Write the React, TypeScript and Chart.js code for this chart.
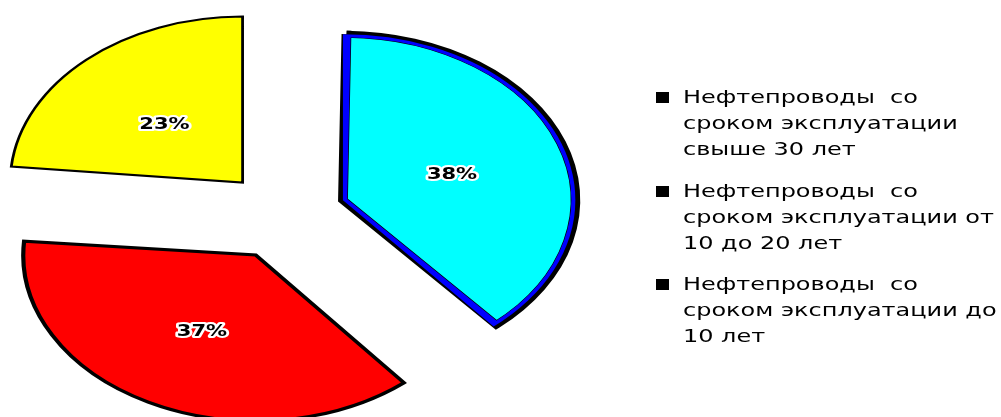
import { useEffect, useRef } from "react";
import { Chart, registerables } from "chart.js";

Chart.register(...registerables);

const categories = [
  "Нефтепроводы  со сроком эксплуатации свыше 30 лет",
  "Нефтепроводы  со сроком эксплуатации от 10 до 20 лет",
  "Нефтепроводы  со сроком эксплуатации до 10 лет",
];
const legendLines = [
  ["Нефтепроводы  со", "сроком эксплуатации", "свыше 30 лет"],
  ["Нефтепроводы  со", "сроком эксплуатации от", "10 до 20 лет"],
  ["Нефтепроводы  со", "сроком эксплуатации до", "10 лет"],
];
const values = [38, 37, 23];
const percentLabels = ["38%", "37%", "23%"];
const sliceColors = ["#00FFFF", "#FF0000", "#FFFF00"];
const sliceBorderWidths = [7, 3, 2];

const SX = 1.4; // horizontal stretch of the picture
const R = 166; // pie radius
const OFF = 178; // chart.js arc offset option (translation = OFF / 4)
const LABEL_DY = 4;

const legendBaselines = [103, 197, 290];
const LINE_H = 26;
const FONT_PX = 17;
const TEXT_SCALE = 1.41;

const ellipsePlugin = {
  id: "ellipse",
  beforeDatasetsDraw(chart: any) {
    const meta = chart.getDatasetMeta(0);
    meta.data.forEach((el: any) => {
      const c = el.circumference;
      const fix = 1 - Math.sin(Math.min(Math.PI, c || 0));
      el.outerRadius = R - (OFF / 4) * fix;
    });
    const { ctx, chartArea } = chart;
    const cx = (chartArea.left + chartArea.right) / 2;
    ctx.save();
    ctx.translate(cx, 0);
    ctx.scale(SX, 1);
    ctx.translate(-cx, 0);
  },
  afterDatasetsDraw(chart: any) {
    const { ctx } = chart;
    const meta = chart.getDatasetMeta(0);
    const first = meta.data[0];
    if (first) {
      // inner blue border of the first slice: clip to the slice, draw a blue stroke
      const mid = (first.startAngle + first.endAngle) / 2;
      const tx = Math.cos(mid) * (OFF / 4);
      const ty = Math.sin(mid) * (OFF / 4);
      ctx.save();
      ctx.beginPath();
      ctx.moveTo(first.x + tx, first.y + ty);
      ctx.arc(first.x + tx, first.y + ty, R, first.startAngle, first.endAngle);
      ctx.closePath();
      ctx.clip();
      const saved = first.options;
      first.options = {
        ...saved,
        backgroundColor: "rgba(0,0,0,0)",
        borderColor: "#0000FF",
        borderWidth: 6,
      };
      first.draw(ctx);
      first.options = saved;
      ctx.restore();
    }
    ctx.font = "bold 15px 'DejaVu Sans'";
    ctx.textAlign = "center";
    ctx.textBaseline = "middle";
    ctx.lineJoin = "round";
    meta.data.forEach((el: any, i: number) => {
      const mid = (el.startAngle + el.endAngle) / 2;
      const d = OFF / 4 + R / 2;
      const x = el.x + Math.cos(mid) * d;
      const y = el.y + Math.sin(mid) * d + LABEL_DY;
      ctx.lineWidth = 4;
      ctx.strokeStyle = "#FFFFFF";
      ctx.strokeText(percentLabels[i], x, y);
      ctx.fillStyle = "#000000";
      ctx.fillText(percentLabels[i], x, y);
    });
    ctx.restore();
  },
};

export default function App() {
  const ref = useRef<HTMLCanvasElement>(null);
  useEffect(() => {
    const chart = new Chart(ref.current as HTMLCanvasElement, {
      type: "pie",
      data: {
        labels: categories,
        datasets: [
          {
            data: values,
            backgroundColor: sliceColors,
            borderColor: "#000000",
            borderWidth: sliceBorderWidths,
            borderJoinStyle: "miter",
            offset: OFF,
          },
        ],
      },
      options: {
        animation: false,
        responsive: false,
        devicePixelRatio: 1,
        events: [],
        radius: R,
        rotation: 0,
        layout: { padding: { left: 0, right: 432, top: 14, bottom: 0 } },
        plugins: {
          legend: { display: false },
          tooltip: { enabled: false },
          title: { display: false },
        },
      } as any,
      plugins: [ellipsePlugin],
    });
    return () => chart.destroy();
  }, []);

  return (
    <div
      style={{
        position: "absolute",
        left: 0,
        top: 0,
        width: 1001,
        height: 417,
        background: "#FFFFFF",
        overflow: "hidden",
      }}
    >
      <canvas
        ref={ref}
        width={1001}
        height={417}
        style={{ position: "absolute", left: 0, top: 0, width: 1001, height: 417 }}
      />
      {legendLines.map((lines, i) => (
        <div key={i}>
          <div
            style={{
              position: "absolute",
              left: 656,
              top: legendBaselines[i] - 11,
              width: 13,
              height: 11,
              background: "#000000",
            }}
          />
          <div
            style={{
              position: "absolute",
              left: 683,
              top: legendBaselines[i] - 19,
              fontFamily: "'DejaVu Sans', sans-serif",
              fontSize: FONT_PX,
              lineHeight: LINE_H + "px",
              color: "#000000",
              whiteSpace: "pre",
              transform: `scaleX(${TEXT_SCALE})`,
              transformOrigin: "0 0",
            }}
          >
            {lines.map((l, j) => (
              <div key={j}>{l}</div>
            ))}
          </div>
        </div>
      ))}
    </div>
  );
}
